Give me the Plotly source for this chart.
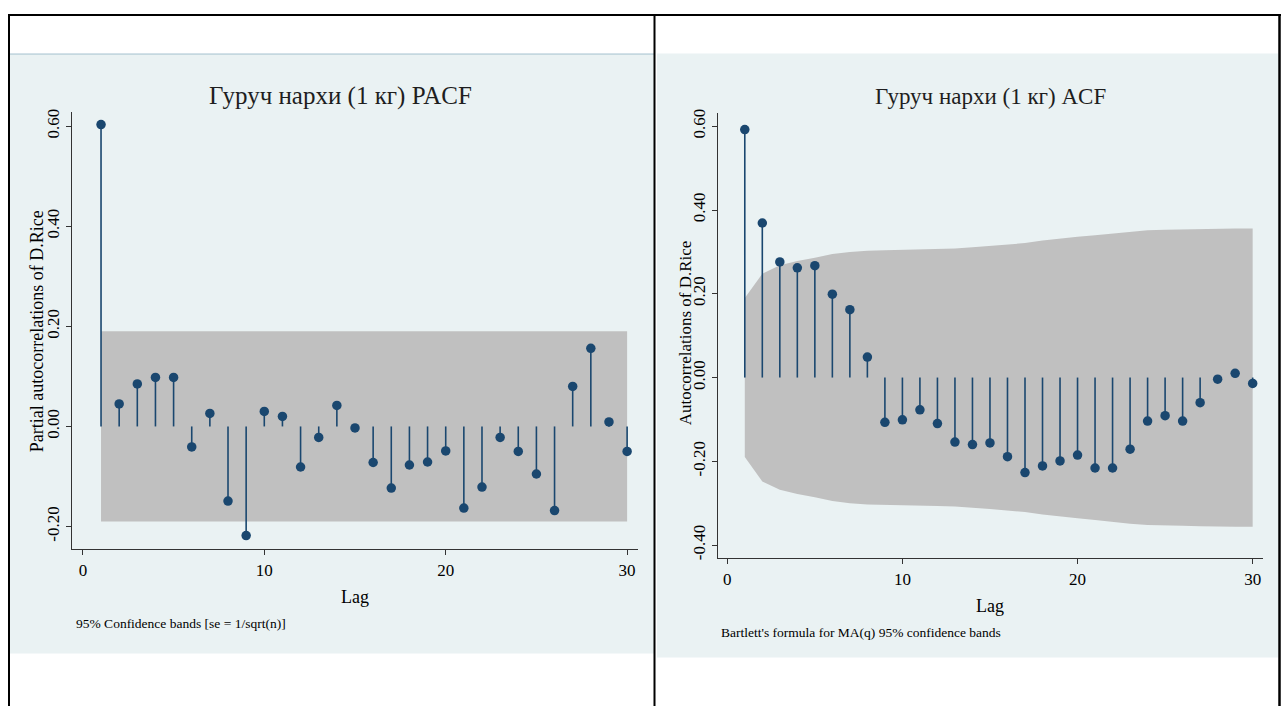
import plotly.graph_objects as go

# ---------------- data ----------------
lags = list(range(1, 31))

pacf_values = [0.603, 0.045, 0.085, 0.098, 0.098, -0.041, 0.026, -0.149, -0.218, 0.030,
               0.020, -0.081, -0.022, 0.042, -0.003, -0.072, -0.123, -0.077, -0.071, -0.049,
               -0.163, -0.121, -0.022, -0.050, -0.095, -0.168, 0.080, 0.156, 0.009, -0.050]
pacf_band = [0.190] * 30

acf_values = [0.592, 0.369, 0.276, 0.262, 0.267, 0.199, 0.162, 0.049, -0.107, -0.101,
              -0.077, -0.110, -0.154, -0.160, -0.156, -0.189, -0.227, -0.211, -0.199, -0.185,
              -0.216, -0.216, -0.171, -0.104, -0.091, -0.104, -0.060, -0.004, 0.010, -0.014]
acf_band = [0.190, 0.248, 0.268, 0.278, 0.286, 0.295, 0.300, 0.303, 0.304, 0.305,
            0.306, 0.307, 0.308, 0.311, 0.314, 0.317, 0.321, 0.327, 0.332, 0.336,
            0.340, 0.344, 0.349, 0.352, 0.353, 0.354, 0.355, 0.356, 0.356, 0.356]

x_ticks = [0, 10, 20, 30]
pacf_yticks = [-0.2, 0.0, 0.2, 0.4, 0.6]
acf_yticks = [-0.4, -0.2, 0.0, 0.2, 0.4, 0.6]

left_title = "Гуруч нархи (1 кг) PACF"
right_title = "Гуруч нархи (1 кг) ACF"
left_ytitle = "Partial autocorrelations of D.Rice"
right_ytitle = "Autocorrelations of D.Rice"
left_note = "95% Confidence bands [se = 1/sqrt(n)]"
right_note = "Bartlett's formula for MA(q) 95% confidence bands"

# ---------------- styling ----------------
W, H = 1281, 708
FONT = "Liberation Serif"
NAVY = "#1a476f"
BAND = "#c0c0c0"
PANEL = "#eaf2f3"
GRID = "#eaf2f3"


def px(x):
    return x / W


def py(y):
    return 1 - y / H


fig = go.Figure()


def add_panel(xa, ya, values, band):
    # confidence band
    fig.add_trace(go.Scatter(
        x=lags + lags[::-1], y=band + [-b for b in band[::-1]],
        fill="toself", fillcolor=BAND, line=dict(width=0), mode="lines",
        hoverinfo="skip", showlegend=False, xaxis=xa, yaxis=ya))
    # stems
    sx, sy = [], []
    for l, v in zip(lags, values):
        sx += [l, l, None]
        sy += [0, v, None]
    fig.add_trace(go.Scatter(
        x=sx, y=sy, mode="lines", line=dict(color=NAVY, width=1.6),
        hoverinfo="skip", showlegend=False, xaxis=xa, yaxis=ya))
    # markers
    fig.add_trace(go.Scatter(
        x=lags, y=values, mode="markers",
        marker=dict(color=NAVY, size=9.5, symbol="circle"),
        showlegend=False, xaxis=xa, yaxis=ya))


add_panel("x", "y", pacf_values, pacf_band)
add_panel("x2", "y2", acf_values, acf_band)

xcommon = dict(
    tickvals=x_ticks, ticktext=[str(t) for t in x_ticks],
    ticks="outside", ticklen=5, tickcolor="#333333", tickwidth=1,
    showline=True, linecolor="#333333", linewidth=1.2,
    showgrid=False, zeroline=False,
    tickfont=dict(family=FONT, size=17, color="#000000"),
)
ycommon = dict(
    ticks="outside", ticklen=5, tickcolor="#333333", tickwidth=1,
    showline=True, linecolor="#333333", linewidth=1.2,
    showgrid=True, gridcolor=GRID, gridwidth=1.5, zeroline=False,
    tickangle=-90,
    tickfont=dict(family=FONT, size=17, color="#000000"),
)

fig.update_layout(
    width=W, height=H,
    margin=dict(l=0, r=0, t=0, b=0),
    paper_bgcolor="white", plot_bgcolor="white",
    showlegend=False,
    xaxis=dict(domain=[px(72), px(638)], range=[-0.6, 30.6], anchor="y", **xcommon),
    yaxis=dict(domain=[py(550), py(109)], range=[-0.2455, 0.628], anchor="x",
               tickvals=pacf_yticks, ticktext=[f"{v:.2f}" for v in pacf_yticks], **ycommon),
    xaxis2=dict(domain=[px(718), px(1263)], range=[-0.53, 30.59], anchor="y2", **xcommon),
    yaxis2=dict(domain=[py(559), py(110)], range=[-0.4315, 0.6315], anchor="x2",
                tickvals=acf_yticks, ticktext=[f"{v:.2f}" for v in acf_yticks], **ycommon),
)

shapes = [
    # panel backgrounds
    dict(type="rect", xref="paper", yref="paper", x0=px(9), x1=px(654), y0=py(655), y1=py(50),
         fillcolor=PANEL, line=dict(width=0), layer="below"),
    dict(type="rect", xref="paper", yref="paper", x0=px(657), x1=px(1278), y0=py(659), y1=py(50),
         fillcolor=PANEL, line=dict(width=0), layer="below"),
    dict(type="line", xref="paper", yref="paper", x0=px(9), x1=px(654), y0=py(50.5), y1=py(50.5),
         line=dict(color="#a9c4d0", width=1)),
    # table borders
    dict(type="line", xref="paper", yref="paper", x0=px(8), x1=px(1281), y0=py(11), y1=py(11),
         line=dict(color="black", width=2)),
    dict(type="line", xref="paper", yref="paper", x0=px(9), x1=px(9), y0=py(10), y1=0,
         line=dict(color="black", width=2)),
    dict(type="line", xref="paper", yref="paper", x0=px(654.5), x1=px(654.5), y0=py(10), y1=0,
         line=dict(color="black", width=2)),
    dict(type="line", xref="paper", yref="paper", x0=px(1279.5), x1=px(1279.5), y0=py(10), y1=0,
         line=dict(color="black", width=2.5)),
]
fig.update_layout(shapes=shapes)

ann = []


def text(x, y, s, size, angle=0, xanchor="center", color="#000000"):
    ann.append(dict(xref="paper", yref="paper", x=px(x), y=py(y), text=s,
                    showarrow=False, textangle=angle, xanchor=xanchor, yanchor="middle",
                    font=dict(family=FONT, size=size, color=color)))


text(340, 93, left_title, 25, color="#1e1e1e")
text(990, 93, right_title, 23, color="#1e1e1e")
text(37, 330, left_ytitle, 18, angle=-90)
text(685, 332, right_ytitle, 17, angle=-90)
text(355, 598, "Lag", 18)
text(990, 607, "Lag", 18)
text(74, 625, left_note, 13.5, xanchor="left")
text(719, 634, right_note, 13.5, xanchor="left")

fig.update_layout(annotations=ann)

fig.write_html(
    "out.html",
    config={"displayModeBar": False},
    post_script="document.body.style.margin='0';document.body.style.overflow='hidden';",
)
